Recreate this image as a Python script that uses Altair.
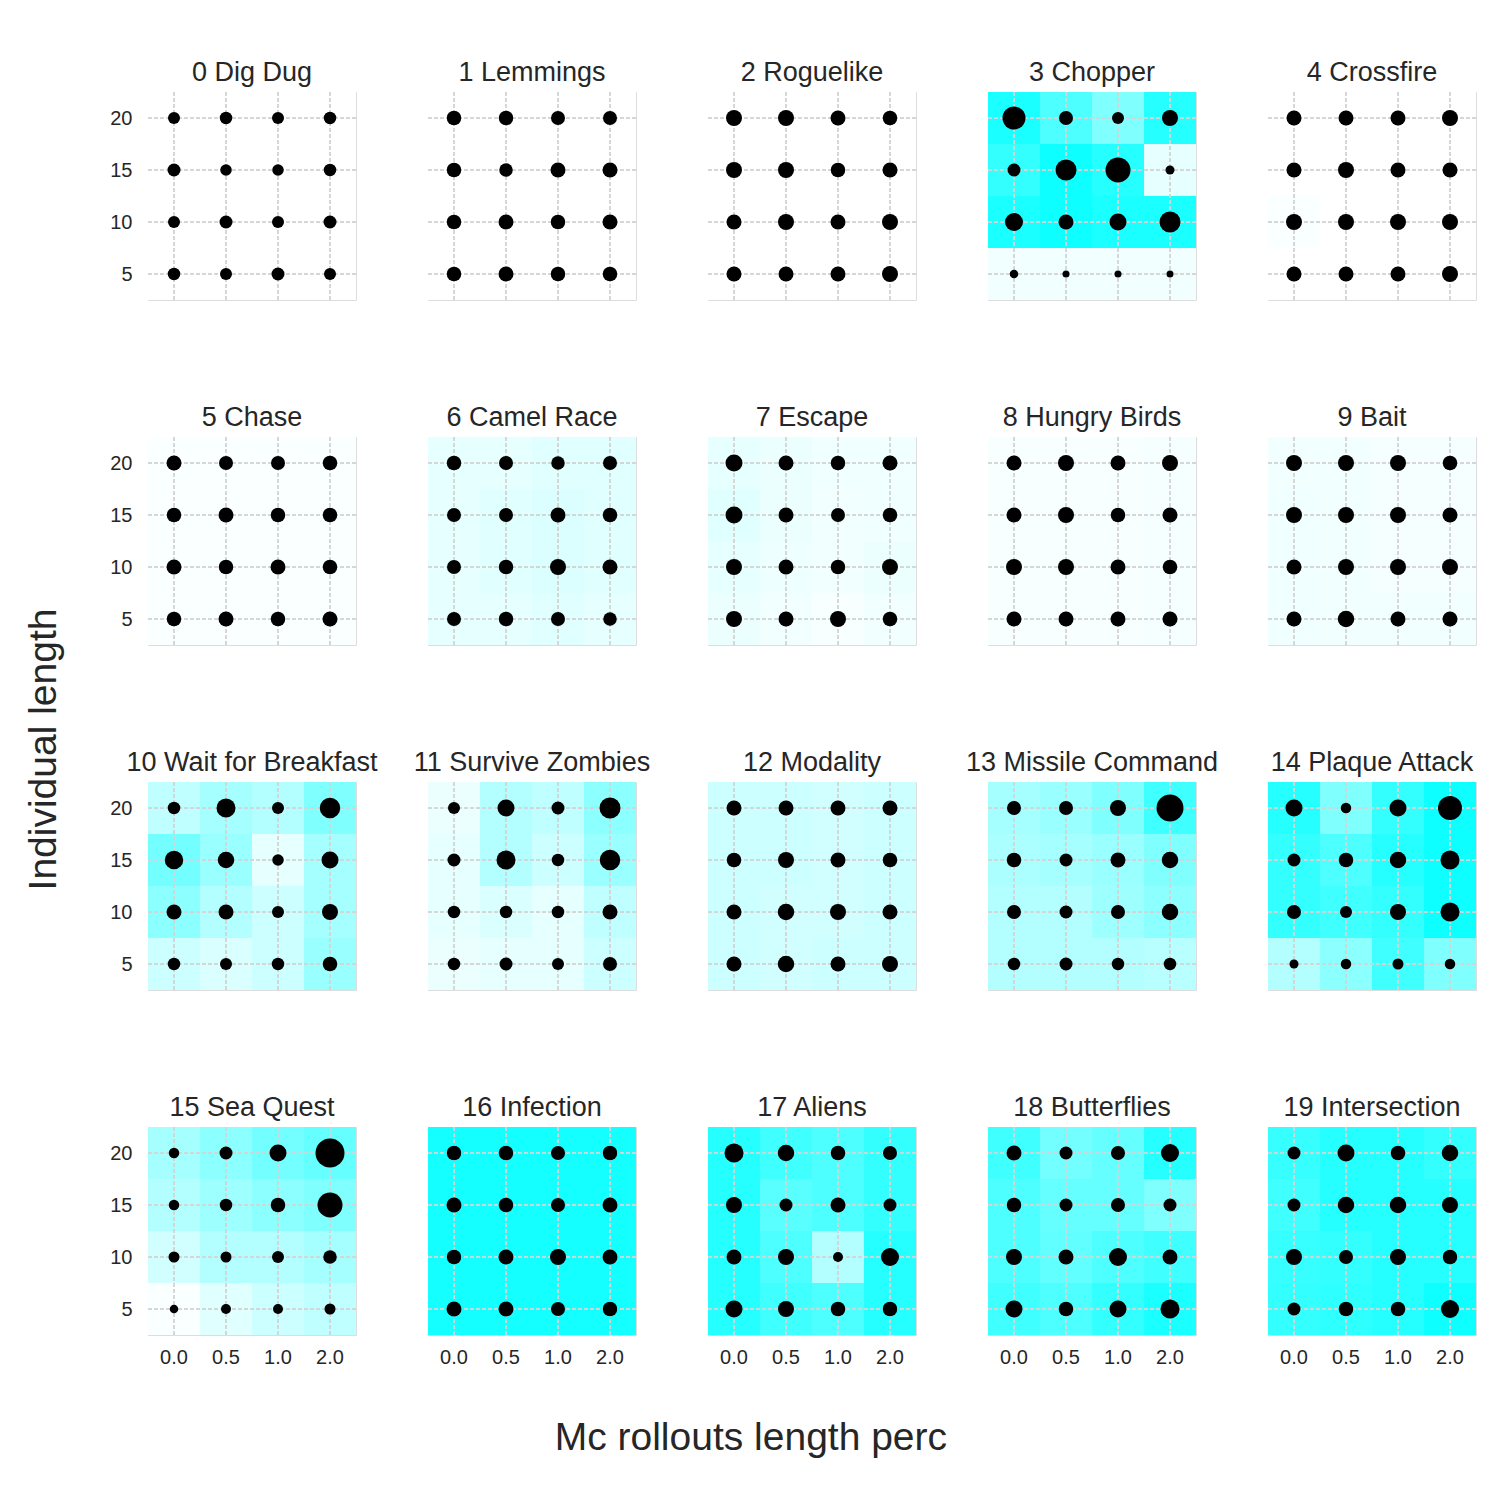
import altair as alt
import pandas as pd

FONT = "Liberation Sans"
TEXT = "#262626"

games = ["0 Dig Dug", "1 Lemmings", "2 Roguelike", "3 Chopper", "4 Crossfire",
         "5 Chase", "6 Camel Race", "7 Escape", "8 Hungry Birds", "9 Bait",
         "10 Wait for Breakfast", "11 Survive Zombies", "12 Modality",
         "13 Missile Command", "14 Plaque Attack", "15 Sea Quest", "16 Infection",
         "17 Aliens", "18 Butterflies", "19 Intersection"]
mc_perc = ["0.0", "0.5", "1.0", "2.0"]
ind_len = [20, 15, 10, 5]

# dot values, rows: individual length 20, 15, 10, 5; columns: mc perc 0.0, 0.5, 1.0, 2.0
dot_0 = [12, 12.5, 12, 12.5, 13, 11.5, 11.5, 12.5, 12, 13, 12, 13, 12.5, 12, 13, 12]
dot_1 = [14.5, 14.5, 14, 14, 14.5, 13.5, 15, 15, 14.5, 15, 14.5, 15, 14.5, 15, 14.5, 14.5]
dot_2 = [16, 16, 15, 14.5, 16, 16, 14.5, 15, 15, 16, 15, 16, 15, 15, 15, 16]
dot_3 = [23, 14, 12, 16, 13, 21, 25, 9, 18, 15, 17, 21, 8.5, 7, 7, 7]
dot_4 = [15, 15, 15, 16, 15, 16, 15, 15, 16, 16, 16, 16, 15, 15, 15, 16]
dot_5 = [15, 14, 14, 14.5, 14.5, 15, 14.5, 14.5, 15, 14.5, 15, 14.5, 14.5, 15, 14.5, 15]
dot_6 = [14.5, 14, 13.5, 14, 14, 14, 15, 14.5, 14, 14.5, 16, 15, 14, 14.5, 14, 13.5]
dot_7 = [17, 15, 14.5, 15, 17, 15, 14, 14.5, 16, 15, 14.5, 16, 16, 15, 16, 14.5]
dot_8 = [15, 16, 15, 16, 15, 16, 14.5, 15, 16, 16, 15, 14.5, 15, 15, 15, 15]
dot_9 = [16, 16, 16, 14.5, 16, 16, 16, 15, 15, 16, 16, 16, 15, 16.5, 15, 15]
dot_10 = [12.5, 19, 12, 20.5, 18.5, 16.5, 11.5, 17, 15, 15, 12, 16, 12.5, 12, 12.5, 14.5]
dot_11 = [12, 17, 13, 21, 13, 19, 12.5, 20.5, 12.5, 12.5, 12.5, 15, 12.5, 13, 12, 14]
dot_12 = [15, 15, 15, 15, 14.5, 16, 15, 14.5, 15, 16.5, 16, 15, 15, 16.5, 15, 16]
dot_13 = [14, 14, 16, 27, 14.5, 13, 15, 16.5, 14, 13, 14, 16.5, 12.5, 13, 12.5, 12.5]
dot_14 = [17, 10.5, 17, 24, 13, 14.5, 16.5, 19, 14, 12, 16, 19, 9, 10.5, 11, 10.5]
dot_15 = [10.5, 13, 17, 29, 10.5, 12.5, 14.5, 25, 11, 11, 12, 13.5, 8.5, 10, 10, 11]
dot_16 = [14.5, 14.5, 14, 14.5, 15, 14.5, 14, 15, 14.5, 15, 16, 15, 15, 15, 14, 14.5]
dot_17 = [19, 16.5, 14.5, 14, 16, 13, 15, 13, 15, 16, 10, 18, 17, 16, 14.5, 14.5]
dot_18 = [15, 13, 14, 18, 14.5, 13, 14, 13, 16, 15, 18, 15, 17, 14.5, 17, 19]
dot_19 = [13, 17, 14.5, 16.5, 13, 16.5, 16.5, 16, 16, 14, 16, 14.5, 13, 14.5, 14.5, 18]

# background intensity (0 = white, 1 = cyan), same cell order
bg_0 = [0.0] * 16
bg_1 = [0.0] * 16
bg_2 = [0.0] * 16
bg_3 = [0.9, 0.7, 0.5, 0.85, 0.8, 0.95, 0.85, 0.1, 0.9, 0.95, 0.9, 0.9, 0.05, 0.05, 0.05, 0.05]
bg_4 = [0.0, 0.0, 0.0, 0.0, 0.0, 0.0, 0.0, 0.0, 0.02, 0.0, 0.0, 0.0, 0.0, 0.0, 0.0, 0.0]
bg_5 = [0.02] * 16
bg_6 = [0.1, 0.1, 0.12, 0.12, 0.1, 0.12, 0.14, 0.12, 0.1, 0.12, 0.14, 0.12, 0.1, 0.1, 0.12, 0.1]
bg_7 = [0.1, 0.08, 0.06, 0.06, 0.12, 0.08, 0.05, 0.06, 0.1, 0.07, 0.05, 0.08, 0.08, 0.05, 0.03, 0.05]
bg_8 = [0.03, 0.03, 0.03, 0.04, 0.03, 0.03, 0.03, 0.04, 0.03, 0.03, 0.03, 0.04, 0.03, 0.03, 0.03, 0.04]
bg_9 = [0.05, 0.05, 0.04, 0.04, 0.06, 0.05, 0.04, 0.04, 0.06, 0.05, 0.04, 0.04, 0.06, 0.05, 0.05, 0.05]
bg_10 = [0.25, 0.35, 0.3, 0.5, 0.55, 0.4, 0.1, 0.35, 0.45, 0.3, 0.2, 0.35, 0.2, 0.15, 0.2, 0.4]
bg_11 = [0.08, 0.3, 0.25, 0.45, 0.1, 0.3, 0.2, 0.4, 0.1, 0.15, 0.1, 0.25, 0.08, 0.1, 0.1, 0.2]
bg_12 = [0.2, 0.2, 0.18, 0.2, 0.2, 0.2, 0.18, 0.2, 0.2, 0.18, 0.18, 0.2, 0.2, 0.18, 0.2, 0.2]
bg_13 = [0.35, 0.4, 0.5, 0.75, 0.33, 0.35, 0.4, 0.5, 0.3, 0.3, 0.38, 0.45, 0.3, 0.3, 0.3, 0.28]
bg_14 = [0.85, 0.5, 0.8, 0.95, 0.8, 0.7, 0.85, 0.95, 0.8, 0.75, 0.8, 0.95, 0.3, 0.45, 0.75, 0.5]
bg_15 = [0.35, 0.45, 0.55, 0.6, 0.3, 0.38, 0.45, 0.5, 0.18, 0.3, 0.3, 0.35, 0.02, 0.12, 0.2, 0.25]
bg_16 = [0.92] * 16
bg_17 = [0.85, 0.75, 0.7, 0.8, 0.85, 0.65, 0.7, 0.8, 0.85, 0.7, 0.3, 0.85, 0.85, 0.75, 0.7, 0.85]
bg_18 = [0.75, 0.55, 0.6, 0.85, 0.7, 0.6, 0.6, 0.5, 0.7, 0.62, 0.7, 0.75, 0.75, 0.7, 0.8, 0.9]
bg_19 = [0.78, 0.85, 0.85, 0.8, 0.75, 0.85, 0.85, 0.85, 0.78, 0.8, 0.85, 0.85, 0.8, 0.82, 0.85, 0.95]

dots = [dot_0, dot_1, dot_2, dot_3, dot_4, dot_5, dot_6, dot_7, dot_8, dot_9,
        dot_10, dot_11, dot_12, dot_13, dot_14, dot_15, dot_16, dot_17, dot_18, dot_19]
bgs = [bg_0, bg_1, bg_2, bg_3, bg_4, bg_5, bg_6, bg_7, bg_8, bg_9,
       bg_10, bg_11, bg_12, bg_13, bg_14, bg_15, bg_16, bg_17, bg_18, bg_19]

rows = []
for g, d, b in zip(games, dots, bgs):
    k = 0
    for yv in ind_len:
        for xv in mc_perc:
            rows.append({"game": g, "mc": xv, "ind": yv, "val": d[k], "bg": b[k]})
            k += 1
df = pd.DataFrame(rows)

xscale = alt.Scale(domain=mc_perc, paddingInner=0, paddingOuter=0)
yscale = alt.Scale(domain=[2.5, 22.5], nice=False, zero=False)
xaxis = alt.Axis(title=None, labelAngle=0, domain=False, ticks=False, grid=False,
                 labelFontSize=20, labelFont=FONT, labelColor=TEXT, labelPadding=12)
yaxis = alt.Axis(title=None, values=ind_len, domain=False, ticks=False, grid=False,
                 labelFontSize=20, labelFont=FONT, labelColor=TEXT, labelPadding=16)

base = alt.Chart()

rect = base.mark_rect().transform_calculate(
    lo="datum.ind - 2.5", hi="datum.ind + 2.5"
).encode(
    x=alt.X("mc:N", scale=xscale, axis=xaxis, sort=mc_perc),
    y=alt.Y("lo:Q", scale=yscale, axis=yaxis),
    y2="hi:Q",
    color=alt.Color("bg:Q", scale=alt.Scale(domain=[0, 1], range=["#ffffff", "#00ffff"],
                                            interpolate="rgb"), legend=None),
)

vgrid = base.mark_rule(color="#d4d4d4", strokeDash=[4, 2], strokeWidth=1).encode(
    x=alt.X("mc:N", scale=xscale, axis=xaxis, sort=mc_perc)
)
hgrid = base.mark_rule(color="#d4d4d4", strokeDash=[4, 2], strokeWidth=1).encode(
    y=alt.Y("ind:Q", scale=yscale, axis=yaxis)
)

pts = base.mark_circle(color="black", opacity=1).encode(
    x=alt.X("mc:N", scale=xscale, axis=xaxis, sort=mc_perc),
    y=alt.Y("ind:Q", scale=yscale, axis=yaxis),
    size=alt.Size("val:Q", scale=alt.Scale(type="pow", exponent=2, domain=[0, 30], range=[0, 900]), legend=None),
)

panel = alt.layer(rect, vgrid, hgrid, pts).properties(width=208, height=208)

fac = panel.facet(
    facet=alt.Facet("game:N", sort=games,
                    header=alt.Header(title=None, labelFontSize=27, labelFont=FONT,
                                      labelColor=TEXT, labelPadding=5)),
    columns=5,
    data=df,
    spacing={"row": 137, "column": 72},
    bounds="flush",
).properties(
    title=alt.TitleParams("Individual length", orient="left", anchor="middle",
                          fontSize=39, font=FONT, color=TEXT, fontWeight="normal",
                          offset=46, dx=-37)
)

chart = alt.vconcat(fac).properties(
    title=alt.TitleParams("Mc rollouts length perc", orient="bottom", anchor="middle",
                          fontSize=39, font=FONT, color=TEXT, fontWeight="normal", offset=52),
    padding={"left": 24, "top": 58, "right": 5, "bottom": 5},
).configure_view(stroke=None).configure(background="white")

chart.save("out.html", embed_options={"renderer": "svg", "actions": False})
